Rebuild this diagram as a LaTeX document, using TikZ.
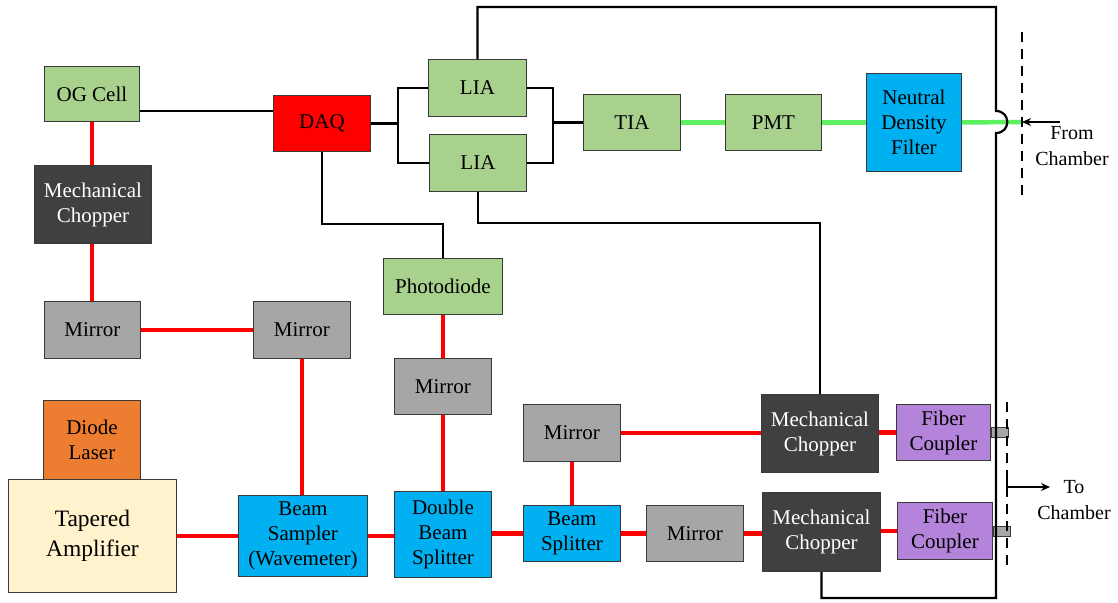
\documentclass[tikz,border=0pt]{standalone}
\usepackage{fontspec}
\setmainfont{Liberation Serif}
\newfontfamily\serifx{Liberation Serif}
\usetikzlibrary{arrows.meta}
\definecolor{cgreen}{HTML}{A9D18E}
\definecolor{cgray}{HTML}{A6A6A6}
\definecolor{cdark}{HTML}{404040}
\definecolor{corange}{HTML}{ED7D31}
\definecolor{ccream}{HTML}{FFF2CC}
\definecolor{cblue}{HTML}{00B0F0}
\definecolor{cpurple}{HTML}{B384D9}
\definecolor{cred}{HTML}{FF0000}
\definecolor{beamg}{HTML}{5EF05E}
\definecolor{edge}{HTML}{3A3A3A}
\tikzset{
  box/.style={draw=edge, line width=0.9pt, anchor=north west, inner sep=0pt, align=center,
    font=\serifx\fontsize{21}{25}\selectfont, text=black},
  gbox/.style={box, fill=cgreen},
  mbox/.style={box, fill=cgray},
  dbox/.style={box, fill=cdark, text=white},
  bbox/.style={box, fill=cblue},
  pbox/.style={box, fill=cpurple},
  redbeam/.style={draw=cred, line width=4.5pt},
  grnbeam/.style={draw=beamg, line width=4.5pt},
  sig/.style={draw=black, line width=2.2pt},
  dashline/.style={draw=black, line width=2.4pt, dash pattern=on 10pt off 7pt},
  plug/.style={draw=edge, line width=0.8pt, fill=cgray, anchor=west, minimum width=17pt, minimum height=10pt, inner sep=0pt},
  lbl/.style={align=center, inner sep=0pt, font=\serifx\fontsize{20}{26}\selectfont},
  arr/.style={draw=black, line width=2pt, -{Stealth[length=9pt,width=8pt]}}
}
\begin{document}
\begin{tikzpicture}[x=1pt,y=-1pt]
\useasboundingbox (0,0) rectangle (1118,602);
% nodes
\node[gbox, minimum width=95pt, minimum height=55pt] (og) at (44,66) {OG Cell};
\node[dbox, minimum width=117pt, minimum height=78pt] (mcL) at (34,165) {Mechanical\\Chopper};
\node[mbox, minimum width=96pt, minimum height=57pt] (mL) at (44,301) {Mirror};
\node[mbox, minimum width=97pt, minimum height=57pt] (m2) at (253,301) {Mirror};
\node[box, fill=corange, minimum width=97pt, minimum height=79pt] (dl) at (43,400) {Diode\\Laser};
\node[box, fill=ccream, minimum width=168pt, minimum height=113pt, font=\serifx\fontsize{23.5}{30}\selectfont] (ta) at (8,479) {Tapered\\Amplifier};
\node[bbox, minimum width=129pt, minimum height=81pt] (bs) at (238,495) {Beam\\Sampler\\(Wavemeter)};
\node[box, fill=cred, minimum width=97pt, minimum height=56pt] (daq) at (273,95) {DAQ};
\node[gbox, minimum width=98pt, minimum height=57pt] (liaT) at (428,59) {LIA};
\node[gbox, minimum width=97pt, minimum height=57pt] (liaB) at (429,134) {LIA};
\node[gbox, minimum width=97pt, minimum height=56pt] (tia) at (583,94) {TIA};
\node[gbox, minimum width=96pt, minimum height=56pt] (pmt) at (725,94) {PMT};
\node[bbox, minimum width=95pt, minimum height=98pt] (ndf) at (866,73) {Neutral\\Density\\Filter};
\node[gbox, minimum width=119pt, minimum height=56pt] (pd) at (383,258) {Photodiode};
\node[mbox, minimum width=97pt, minimum height=56pt] (m3) at (394,358) {Mirror};
\node[bbox, minimum width=97pt, minimum height=86pt] (dbs) at (394,491) {Double\\Beam\\Splitter};
\node[bbox, minimum width=97pt, minimum height=56pt] (bsp) at (523,505) {Beam\\Splitter};
\node[mbox, minimum width=97pt, minimum height=57pt] (m4) at (523,404) {Mirror};
\node[mbox, minimum width=97pt, minimum height=56pt] (m5) at (646,505) {Mirror};
\node[dbox, minimum width=117pt, minimum height=78pt] (mcT) at (761,394) {Mechanical\\Chopper};
\node[dbox, minimum width=118pt, minimum height=79pt] (mcB) at (762,492) {Mechanical\\Chopper};
\node[pbox, minimum width=94pt, minimum height=56pt] (fcT) at (896,404) {Fiber\\Coupler};
\node[pbox, minimum width=95pt, minimum height=57pt] (fcB) at (897,502) {Fiber\\Coupler};
\node[plug] (pT) at (fcT.east) {};
\node[plug] (pB) at (fcB.east) {};
% coordinates
\coordinate (dashTtop) at (1022,32);
\coordinate (dashTbot) at (1022,200);
\coordinate (inlet) at (1022,122);
\coordinate (fromStart) at (1060,122);
\coordinate (dashBtop) at (1007,402);
\coordinate (dashBbot) at (1007,572);
\coordinate (toStart) at (1007,473);
\coordinate (toEnd) at (1050,487);
% red beams
\draw[redbeam] (og.south) -- (og.south |- mcL.north);
\draw[redbeam] (mcL.south -| og.south) -- (og.south |- mL.north);
\draw[redbeam] (mL.east) -- (m2.west);
\draw[redbeam] (m2.south) -- (m2.south |- bs.north);
\draw[redbeam] (ta.east) -- (bs.west);
\draw[redbeam] (bs.east) -- (dbs.west |- bs.east);
\draw[redbeam] (pd.south) -- (m3.north);
\draw[redbeam] (m3.south) -- (dbs.north);
\draw[redbeam] (dbs.east |- bsp.west) -- (bsp.west);
\draw[redbeam] (bsp.north) -- (m4.south);
\draw[redbeam] (bsp.east) -- (m5.west);
\draw[redbeam] (m5.east) -- (mcB.west |- m5.east);
\draw[redbeam] (m4.east) -- (mcT.west |- m4.east);
\draw[redbeam] (mcT.east |- fcT.west) -- (fcT.west);
\draw[redbeam] (mcB.east |- fcB.west) -- (fcB.west);
% green beams
\draw[grnbeam] (tia.east) -- (pmt.west);
\draw[grnbeam] (pmt.east) -- (ndf.west);
\draw[grnbeam] (ndf.east) -- (inlet);
% signal lines
\draw[sig] (og.east |- 0,111) -- (daq.west |- 0,111);
\draw[sig] (daq.east) -- ++(27,0) coordinate (j1);
\draw[sig] (j1) |- (liaT.west);
\draw[sig] (j1) |- (liaB.west);
\draw[sig] (tia.west) -- ++(-30,0) coordinate (j2);
\draw[sig] (j2) |- (liaT.east);
\draw[sig] (j2) |- (liaB.east);
\draw[sig] (daq.south) -- ++(0,72) -| (pd.north);
\draw[sig] (liaB.south) -- ++(0,31) -| (mcT.north);
\draw[sig, line join=miter] (liaT.north) -- (liaT.north |- 0,7) -- (996,7) -- (996,111)
  .. controls (1011,111) and (1011,133) .. (996,133) -- (996,598) -- (mcB.south |- 0,598) -- (mcB.south);
% chamber walls
\draw[dashline] (dashTtop) -- (dashTbot);
\draw[dashline] (dashBtop) -- (dashBbot);
% arrows
\draw[arr] (fromStart) -- (inlet);
\draw[arr] (toStart) |- (toEnd);
\node[lbl] (fromlbl) at (1072,146) {From\\Chamber};
\node[lbl] (tolbl) at (1074,500) {To\\Chamber};
\end{tikzpicture}
\end{document}
